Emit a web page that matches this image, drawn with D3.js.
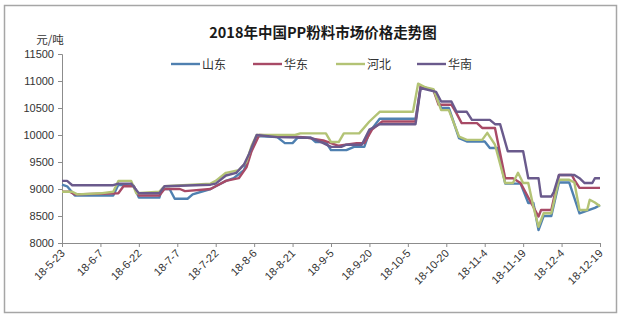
<!DOCTYPE html>
<html>
<head>
<meta charset="utf-8">
<script src="https://cdn.jsdelivr.net/npm/d3@7"></script>
<style>
  body { margin: 0; background: #fff; }
  svg { display: block; font-family: "Liberation Sans", Arial, "Noto Sans CJK SC", sans-serif; }
</style>
</head>
<body>
<svg id="svg" width="621" height="321"></svg>
<script>
// chart data (month-day in 2018, price in yuan/ton)
var tickLabels = ["18-5-23", "18-6-7", "18-6-22", "18-7-7", "18-7-22", "18-8-6", "18-8-21", "18-9-5",
    "18-9-20", "18-10-5", "18-10-20", "18-11-4", "18-11-19", "18-12-4", "18-12-19"];
var yTicks = [8000, 8500, 9000, 9500, 10000, 10500, 11000, 11500];
var seriesNames = ["山东", "华东", "河北", "华南"];
var seriesColors = ["#4f80b0", "#a84a66", "#b3c375", "#6a5a8c"];

var shandong = [
    ["5-23", 9080], ["5-25", 9050], ["5-28", 8880], ["6-12", 8880], ["6-14", 9080], ["6-20", 9060],
    ["6-22", 8840], ["6-30", 8840], ["7-1", 9000], ["7-4", 9000], ["7-6", 8820], ["7-11", 8820],
    ["7-13", 8900], ["7-20", 9000], ["7-22", 9050], ["7-26", 9150], ["7-29", 9200], ["8-2", 9350],
    ["8-4", 9600], ["8-7", 9980], ["8-15", 9960], ["8-18", 9850], ["8-21", 9850], ["8-23", 9950],
    ["8-28", 9950], ["8-30", 9870], ["9-3", 9870], ["9-5", 9720], ["9-11", 9720], ["9-14", 9780],
    ["9-18", 9780], ["9-20", 10050], ["9-24", 10300], ["10-8", 10300], ["10-10", 10900], ["10-15", 10830],
    ["10-18", 10500], ["10-21", 10500], ["10-25", 9940], ["10-28", 9880], ["11-4", 9880], ["11-6", 9760],
    ["11-9", 9760], ["11-12", 9100], ["11-18", 9100], ["11-21", 8740], ["11-23", 8740], ["11-25", 8240],
    ["11-27", 8500], ["11-30", 8500], ["12-3", 9120], ["12-7", 9120], ["12-11", 8550], ["12-14", 8600],
    ["12-17", 8650], ["12-19", 8700]
];
var huadong = [
    ["5-23", 8950], ["5-26", 8950], ["5-28", 8900], ["6-14", 8920], ["6-16", 9050], ["6-20", 9050],
    ["6-22", 8880], ["6-30", 8880], ["7-2", 9000], ["7-8", 9000], ["7-10", 8960], ["7-20", 9000],
    ["7-22", 9050], ["7-26", 9150], ["7-31", 9200], ["8-3", 9400], ["8-5", 9700], ["8-8", 10000],
    ["8-25", 9960], ["9-2", 9900], ["9-5", 9850], ["9-8", 9800], ["9-15", 9850], ["9-18", 9850],
    ["9-21", 10100], ["9-25", 10250], ["10-8", 10250], ["10-10", 10900], ["10-15", 10830], ["10-17", 10560],
    ["10-22", 10560], ["10-24", 10400], ["10-26", 10220], ["11-1", 10220], ["11-3", 10130], ["11-8", 10130],
    ["11-12", 9200], ["11-15", 9200], ["11-18", 9110], ["11-25", 8490], ["11-26", 8610], ["11-30", 8610],
    ["12-3", 9260], ["12-8", 9260], ["12-9", 9170], ["12-11", 9020], ["12-19", 9020]
];
var hebei = [
    ["5-23", 8950], ["5-27", 8950], ["5-29", 8900], ["6-7", 8920], ["6-12", 8950], ["6-14", 9150],
    ["6-19", 9150], ["6-21", 8920], ["6-30", 8950], ["7-2", 9050], ["7-20", 9100], ["7-22", 9150],
    ["7-26", 9300], ["7-31", 9350], ["8-3", 9500], ["8-5", 9800], ["8-7", 10000], ["8-22", 10000],
    ["8-24", 10030], ["9-3", 10030], ["9-5", 9870], ["9-8", 9870], ["9-10", 10030], ["9-16", 10030],
    ["9-20", 10250], ["9-24", 10430], ["10-7", 10430], ["10-9", 10950], ["10-12", 10880], ["10-15", 10850],
    ["10-18", 10460], ["10-21", 10460], ["10-25", 9970], ["10-28", 9910], ["11-3", 9910], ["11-5", 10040],
    ["11-8", 9820], ["11-12", 9110], ["11-15", 9110], ["11-17", 9300], ["11-19", 9110], ["11-21", 9110],
    ["11-23", 8670], ["11-25", 8300], ["11-27", 8550], ["11-30", 8550], ["12-3", 9170], ["12-7", 9170],
    ["12-9", 9120], ["12-11", 8610], ["12-14", 8610], ["12-15", 8800], ["12-17", 8750], ["12-19", 8680]
];
var huanan = [
    ["5-23", 9150], ["5-25", 9150], ["5-27", 9070], ["6-12", 9070], ["6-14", 9100], ["6-19", 9100],
    ["6-22", 8920], ["6-30", 8920], ["7-2", 9050], ["7-20", 9080], ["7-22", 9100], ["7-26", 9250],
    ["7-30", 9300], ["8-2", 9450], ["8-4", 9650], ["8-7", 10000], ["8-15", 9960], ["8-28", 9950],
    ["9-2", 9850], ["9-5", 9780], ["9-9", 9780], ["9-11", 9820], ["9-17", 9820], ["9-20", 10100],
    ["9-24", 10200], ["10-8", 10200], ["10-10", 10870], ["10-16", 10800], ["10-18", 10620], ["10-22", 10620],
    ["10-24", 10430], ["10-28", 10430], ["10-30", 10280], ["11-6", 10280], ["11-8", 10200], ["11-10", 10200],
    ["11-13", 9700], ["11-19", 9700], ["11-21", 9200], ["11-25", 9200], ["11-26", 8860], ["11-30", 8860],
    ["12-1", 8950], ["12-3", 9260], ["12-9", 9260], ["12-11", 9200], ["12-13", 9110], ["12-16", 9110],
    ["12-17", 9200], ["12-19", 9200]
];
var seriesValues = [shandong, huadong, hebei, huanan];

var parseDay = d3.timeParse("%Y-%m-%d");
var parseTick = d3.timeParse("%y-%m-%d");

const svg = d3.select("#svg");

// outer chart frame
svg.append("rect")
    .attr("x", 4.5).attr("y", 5.5).attr("width", 612).attr("height", 307)
    .attr("fill", "#fff").attr("stroke", "#a6a6a6").attr("stroke-width", 1.5);

const x = d3.scaleTime()
    .domain([parseTick("18-5-23"), parseTick("18-12-19")])
    .range([62, 600]);
const y = d3.scaleLinear()
    .domain([8000, 11500])
    .range([243, 54]);

// title
svg.append("text")
    .attr("x", 323).attr("y", 38)
    .attr("text-anchor", "middle")
    .attr("font-family", "'Noto Sans CJK SC', sans-serif")
    .attr("font-weight", "bold").attr("font-size", 14.5)
    .attr("fill", "#1a1a1a")
    .text("2018年中国PP粉料市场价格走势图");

// unit label
svg.append("text")
    .attr("x", 50).attr("y", 44)
    .attr("text-anchor", "middle")
    .attr("font-family", "'Noto Sans CJK SC', sans-serif")
    .attr("font-size", 11.5).attr("fill", "#333")
    .text("元/吨");

// y axis
const yAxis = svg.append("g")
    .attr("transform", "translate(62,0)")
    .call(d3.axisLeft(y).tickValues(yTicks).tickSize(4).tickPadding(4).tickFormat(d3.format("d")));
yAxis.select(".domain").attr("stroke", "#8c8c8c");
yAxis.selectAll(".tick line").attr("stroke", "#8c8c8c");
yAxis.selectAll(".tick text").attr("font-size", 11).attr("fill", "#333")
    .attr("font-family", "'Liberation Sans', Arial, sans-serif");

// x axis
const xAxis = svg.append("g")
    .attr("transform", "translate(0,243)")
    .call(d3.axisBottom(x).tickValues(tickLabels.map(parseTick)).tickSize(4)
        .tickFormat((d, i) => tickLabels[i]));
xAxis.select(".domain").attr("stroke", "#8c8c8c");
xAxis.selectAll(".tick line").attr("stroke", "#8c8c8c");
xAxis.selectAll(".tick text")
    .attr("font-size", 11).attr("fill", "#333")
    .attr("font-family", "'Liberation Sans', Arial, sans-serif")
    .attr("text-anchor", "end")
    .attr("dy", null).attr("y", 0)
    .attr("transform", "translate(3,11) rotate(-45)");

// series lines
const line = d3.line()
    .x(d => x(parseDay("2018-" + d[0])))
    .y(d => y(d[1]));

svg.append("g").selectAll("path")
    .data(seriesValues)
    .join("path")
    .attr("fill", "none")
    .attr("stroke", (d, i) => seriesColors[i])
    .attr("stroke-width", 2.4)
    .attr("stroke-linejoin", "round")
    .attr("d", line);

// legend
var legendX = [171, 253, 336, 417];
const legend = svg.append("g").selectAll("g")
    .data(seriesNames)
    .join("g")
    .attr("transform", (d, i) => `translate(${legendX[i]},64)`);
legend.append("line")
    .attr("x1", 0).attr("x2", 29)
    .attr("stroke", (d, i) => seriesColors[i])
    .attr("stroke-width", 2.4);
legend.append("text")
    .attr("x", 31).attr("y", 4.5)
    .attr("font-family", "'Noto Sans CJK SC', sans-serif")
    .attr("font-size", 12).attr("fill", "#333")
    .text(d => d);
</script>
</body>
</html>
